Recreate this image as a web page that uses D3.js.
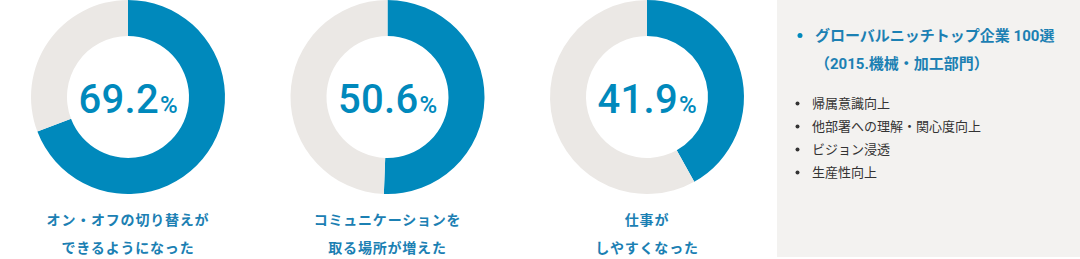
<!DOCTYPE html>
<head>
	<meta charset="UTF-8">
	<script src="https://d3js.org/d3.v7.min.js"></script>
<style>
	body{ margin: 0; background-color: #fff; }
	svg{ display: block; }
</style>
</head>
<body>
	<svg width="1080" height="259"></svg>
</body>
<script>
	// Chart data
	var percents = [69.2, 50.6, 41.9];
	var labels = [
		["オン・オフの切り替えが", "できるようになった"],
		["コミュニケーションを", "取る場所が増えた"],
		["仕事が", "しやすくなった"]
	];
	var awardLines = ["グローバルニッチトップ企業 100選", "（2015.機械・加工部門）"];
	var effects = ["帰属意識向上", "他部署への理解・関心度向上", "ビジョン浸透", "生産性向上"];

	var blue = "#0089bc";
	var grey = "#ebe8e5";
	var cjk = "'Noto Sans CJK JP', 'Noto Sans', sans-serif";

	var svg = d3.select("svg");

	// Donut positions
	var xScale = d3.scalePoint()
					.domain(d3.range(percents.length))
					.range([128, 647]);
	var cy = 97, outerR = 97, innerR = 61;

	var pie = d3.pie().sort(null).value(function(d){ return d; });
	var arc = d3.arc().innerRadius(innerR).outerRadius(outerR);

	var donuts = svg.selectAll("g.donut")
					.data(percents).enter()
					.append("g")
					.attr("class", "donut")
					.attr("transform", function(d, i){ return "translate(" + xScale(i) + "," + cy + ")"; });

	donuts.selectAll("path")
		.data(function(d){ return pie([d, 100 - d]); }).enter()
		.append("path")
		.attr("d", arc)
		.attr("fill", function(d, i){ return i == 0 ? blue : grey; });

	// Centre value
	var val = donuts.append("text")
		.attr("text-anchor", "middle")
		.attr("y", 15.5)
		.attr("fill", blue)
		.attr("font-family", "Roboto, sans-serif");
	val.append("tspan")
		.attr("font-size", "40px")
		.attr("font-weight", 500)
		.attr("letter-spacing", "0.3px")
		.text(function(d){ return d.toFixed(1); });
	val.append("tspan")
		.attr("font-size", "24px")
		.attr("font-weight", 500)
		.attr("dx", 1)
		.text("%");

	// Labels under each donut
	donuts.each(function(d, i){
		var g = d3.select(this);
		labels[i].forEach(function(line, j){
			g.append("text")
				.attr("text-anchor", "middle")
				.attr("y", 128 + j * 28)
				.attr("fill", "#1b80b3")
				.attr("font-family", cjk)
				.attr("font-size", "14px")
				.attr("font-weight", 700)
				.attr("letter-spacing", "0.8px")
				.text(line);
		});
	});

	// Right side panel
	svg.append("rect")
		.attr("x", 777).attr("y", 0)
		.attr("width", 303).attr("height", 257)
		.attr("fill", "#f3f2f0");

	svg.append("circle")
		.attr("cx", 800).attr("cy", 35.5).attr("r", 2.5)
		.attr("fill", blue);

	awardLines.forEach(function(line, j){
		svg.append("text")
			.attr("x", 815).attr("y", 41 + j * 27.5)
			.attr("fill", "#1b80b3")
			.attr("font-family", "Roboto, " + cjk)
			.attr("font-size", "15px")
			.attr("font-weight", 700)
			.text(line);
	});

	var yList = d3.scalePoint()
					.domain(effects)
					.range([103.5, 172.5]);

	var items = svg.selectAll("g.item")
					.data(effects).enter()
					.append("g")
					.attr("class", "item")
					.attr("transform", function(d){ return "translate(0," + yList(d) + ")"; });

	items.append("circle")
		.attr("cx", 797.5).attr("cy", 0).attr("r", 2)
		.attr("fill", "#333");

	items.append("text")
		.attr("x", 812).attr("y", 4.5)
		.attr("fill", "#333")
		.attr("font-family", cjk)
		.attr("font-size", "13px")
		.text(function(d){ return d; });
</script>
